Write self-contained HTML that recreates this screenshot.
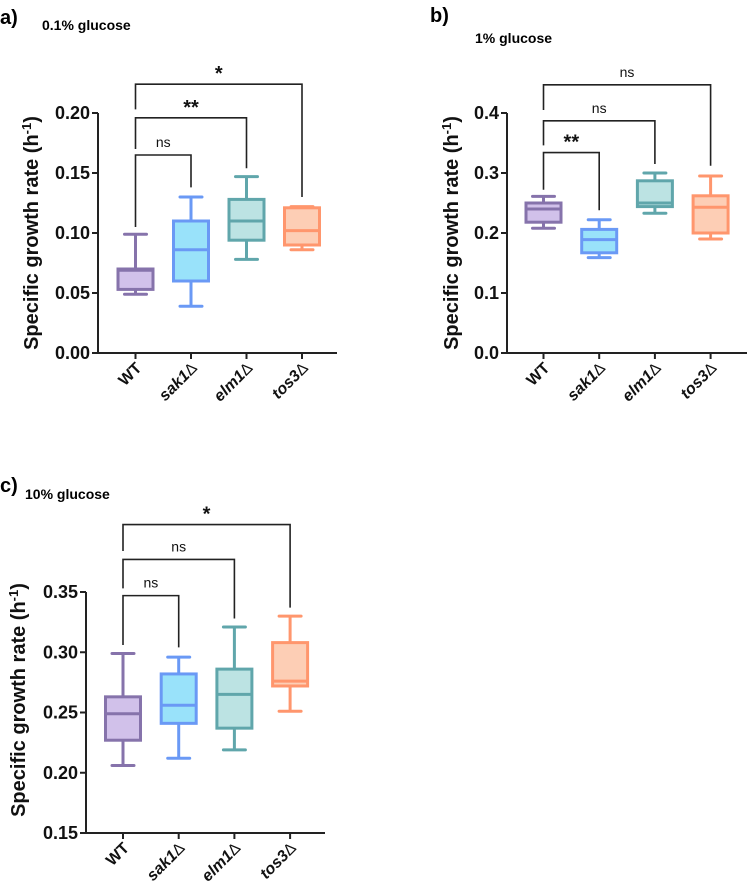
<!DOCTYPE html>
<html><head><meta charset="utf-8">
<style>
html,body{margin:0;padding:0;background:#fff;}
svg{display:block;font-family:"Liberation Sans",sans-serif;}
</style></head>
<body>
<svg id="fig" width="749" height="888" viewBox="0 0 749 888" xmlns="http://www.w3.org/2000/svg">
<text x="0" y="24" font-size="20" font-weight="bold">a)</text>
<text x="42" y="30" font-size="14" font-weight="bold">0.1% glucose</text>
<text x="430" y="22" font-size="20" font-weight="bold">b)</text>
<text x="475" y="43" font-size="14" font-weight="bold">1% glucose</text>
<text x="0" y="492" font-size="20" font-weight="bold">c)</text>
<text x="25" y="499" font-size="14" font-weight="bold">10% glucose</text>
</svg>
<script>
// Categories
const categories = ["WT","sak1","elm1","tos3"];
// Panel a (0.1% glucose)
const aLo  = [0.049,0.039,0.078,0.086];
const aQ1  = [0.053,0.060,0.094,0.090];
const aMed = [0.069,0.086,0.110,0.102];
const aQ3  = [0.070,0.110,0.128,0.121];
const aHi  = [0.099,0.130,0.147,0.122];
const aTicks = ["0.00","0.05","0.10","0.15","0.20"];
// Panel b (1% glucose)
const bLo  = [0.208,0.159,0.233,0.190];
const bQ1  = [0.218,0.167,0.244,0.200];
const bMed = [0.240,0.189,0.250,0.243];
const bQ3  = [0.250,0.206,0.287,0.262];
const bHi  = [0.261,0.222,0.300,0.295];
const bTicks = ["0.0","0.1","0.2","0.3","0.4"];
// Panel c (10% glucose)
const cLo  = [0.206,0.212,0.219,0.251];
const cQ1  = [0.227,0.241,0.237,0.272];
const cMed = [0.249,0.256,0.265,0.276];
const cQ3  = [0.263,0.282,0.286,0.308];
const cHi  = [0.299,0.296,0.321,0.330];
const cTicks = ["0.15","0.20","0.25","0.30","0.35"];
// Significance labels (vs WT, for sak1, elm1, tos3)
const aSig = ["ns","**","*"];
const bSig = ["**","ns","ns"];
const cSig = ["ns","ns","*"];
// bracket heights (data units) and leg ends (data units)
const aBrY = [0.165,0.196,0.224];
const aBrLeftEnd = [0.105,0.170,0.203];
const aBrRightEnd = [0.138,0.154,0.130];
const bBrY = [0.334,0.387,0.447];
const bBrLeftEnd = [0.272,0.346,0.405];
const bBrRightEnd = [0.238,0.315,0.312];
const cBrY = [0.347,0.377,0.406];
const cBrLeftEnd = [0.306,0.353,0.384];
const cBrRightEnd = [0.304,0.328,0.337];

const strokes = ["#7a64a3","#5a8ff5","#4f9da2","#ff8b5e"];
const fills   = ["#cdbbe8","#8fdffa","#b5e0e1","#fdc9ae"];
const NS = "http://www.w3.org/2000/svg";
const svg = document.getElementById('fig');
function mk(tag, attrs, parent){
  const e = document.createElementNS(NS, tag);
  for (const k in attrs) e.setAttribute(k, attrs[k]);
  (parent||svg).appendChild(e);
  return e;
}

function panel(id, cfg){
  const g = mk('g', {});
  
  
  const tickVals = cfg.ticks.map(Number);
  const vmin = tickVals[0], vmax = tickVals[tickVals.length-1];
  const y = v => cfg.yBot - (v - vmin) / (vmax - vmin) * (cfg.yBot - cfg.yTop);
  const x = i => cfg.x0 + i * cfg.dx;
  const ya = mk('line', {x1:cfg.ax, y1:y(vmax), x2:cfg.ax, y2:cfg.yBot+1, stroke:'#222', 'stroke-width':2}, g);
  
  
  const xa = mk('line', {x1:cfg.ax-1, y1:cfg.yBot, x2:cfg.xEnd, y2:cfg.yBot, stroke:'#222', 'stroke-width':2}, g);
  
  
  cfg.ticks.forEach((t, k) => {
    const yy = y(tickVals[k]);
    mk('line', {x1:cfg.ax-6, y1:yy, x2:cfg.ax, y2:yy, stroke:'#222', 'stroke-width':2}, g);
    const tl = mk('text', {x:cfg.ax-8, y:yy+6, 'text-anchor':'end', 'font-size':18, 'font-weight':'bold', fill:'#111'}, g);
    tl.textContent = t;
    
    
  });
  const yt = mk('text', {x:0, y:0, transform:`translate(${cfg.titleX},${cfg.titleY}) rotate(-90)`, 'text-anchor':'middle', 'font-size':20, 'font-weight':'bold', fill:'#111'}, g);
  yt.innerHTML = 'Specific growth rate (h<tspan dy="-7" font-size="13">-1</tspan><tspan dy="7">)</tspan>';
  
  
  const bw = 35;
  categories.forEach((c, i) => {
    const cx = x(i);
    mk('line', {x1:cx, y1:cfg.yBot, x2:cx, y2:cfg.yBot+6, stroke:'#222', 'stroke-width':2}, g);
    const bg = mk('g', {stroke:strokes[i], 'stroke-width':3, opacity:0.9}, g);
    
    
    mk('line', {x1:cx, y1:y(cfg.hi[i]), x2:cx, y2:y(cfg.q3[i])}, bg);
    mk('line', {x1:cx, y1:y(cfg.lo[i]), x2:cx, y2:y(cfg.q1[i])}, bg);
    mk('line', {x1:cx-11, y1:y(cfg.hi[i]), x2:cx+11, y2:y(cfg.hi[i]), 'stroke-linecap':'round'}, bg);
    mk('line', {x1:cx-11, y1:y(cfg.lo[i]), x2:cx+11, y2:y(cfg.lo[i]), 'stroke-linecap':'round'}, bg);
    mk('rect', {x:cx-bw/2, y:y(cfg.q3[i]), width:bw, height:Math.max(1, y(cfg.q1[i]) - y(cfg.q3[i])), fill:fills[i]}, bg);
    mk('line', {x1:cx-bw/2, y1:y(cfg.med[i]), x2:cx+bw/2, y2:y(cfg.med[i])}, bg);
    const lbl = mk('text', {x:0, y:0, transform:`translate(${cx+7},${cfg.yBot+16}) rotate(-45)`, 'text-anchor':'end', 'font-size':16, 'font-weight':'bold', fill:'#111'}, g);
    if (c === 'WT') lbl.textContent = 'WT';
    else lbl.innerHTML = '<tspan font-style="italic">' + c + '</tspan><tspan font-weight="normal">Δ</tspan>';
    
    
  });
  cfg.sig.forEach((s, k) => {
    const j = k + 1;
    const by = y(cfg.brY[k]);
    const br = mk('polyline', {points:`${x(0)},${y(cfg.brL[k])} ${x(0)},${by} ${x(j)},${by} ${x(j)},${y(cfg.brR[k])}`, fill:'none', stroke:'#222', 'stroke-width':1.6}, g);
    
    
    const isStar = s.indexOf('*') >= 0;
    const st = mk('text', {x:(x(0)+x(j))/2, y:by - (isStar ? 4 : 8), 'text-anchor':'middle', 'font-size': isStar ? 20 : 14, 'font-weight': isStar ? 'bold' : 'normal', fill:'#111'}, g);
    st.textContent = s;
    
    
  });
}

panel('panel-a', {ax:98, yTop:113, yBot:353, x0:135.5, dx:55.5, xEnd:337, titleX:38, titleY:233,
  ticks:aTicks, lo:aLo, q1:aQ1, med:aMed, q3:aQ3, hi:aHi, sig:aSig, brY:aBrY, brL:aBrLeftEnd, brR:aBrRightEnd});
panel('panel-b', {ax:507, yTop:113, yBot:353, x0:543.5, dx:55.7, xEnd:747, titleX:458, titleY:233,
  ticks:bTicks, lo:bLo, q1:bQ1, med:bMed, q3:bQ3, hi:bHi, sig:bSig, brY:bBrY, brL:bBrLeftEnd, brR:bBrRightEnd});
panel('panel-c', {ax:86, yTop:592, yBot:833, x0:123, dx:55.7, xEnd:325, titleX:25, titleY:700,
  ticks:cTicks, lo:cLo, q1:cQ1, med:cMed, q3:cQ3, hi:cHi, sig:cSig, brY:cBrY, brL:cBrLeftEnd, brR:cBrRightEnd});
</script>
</body></html>
